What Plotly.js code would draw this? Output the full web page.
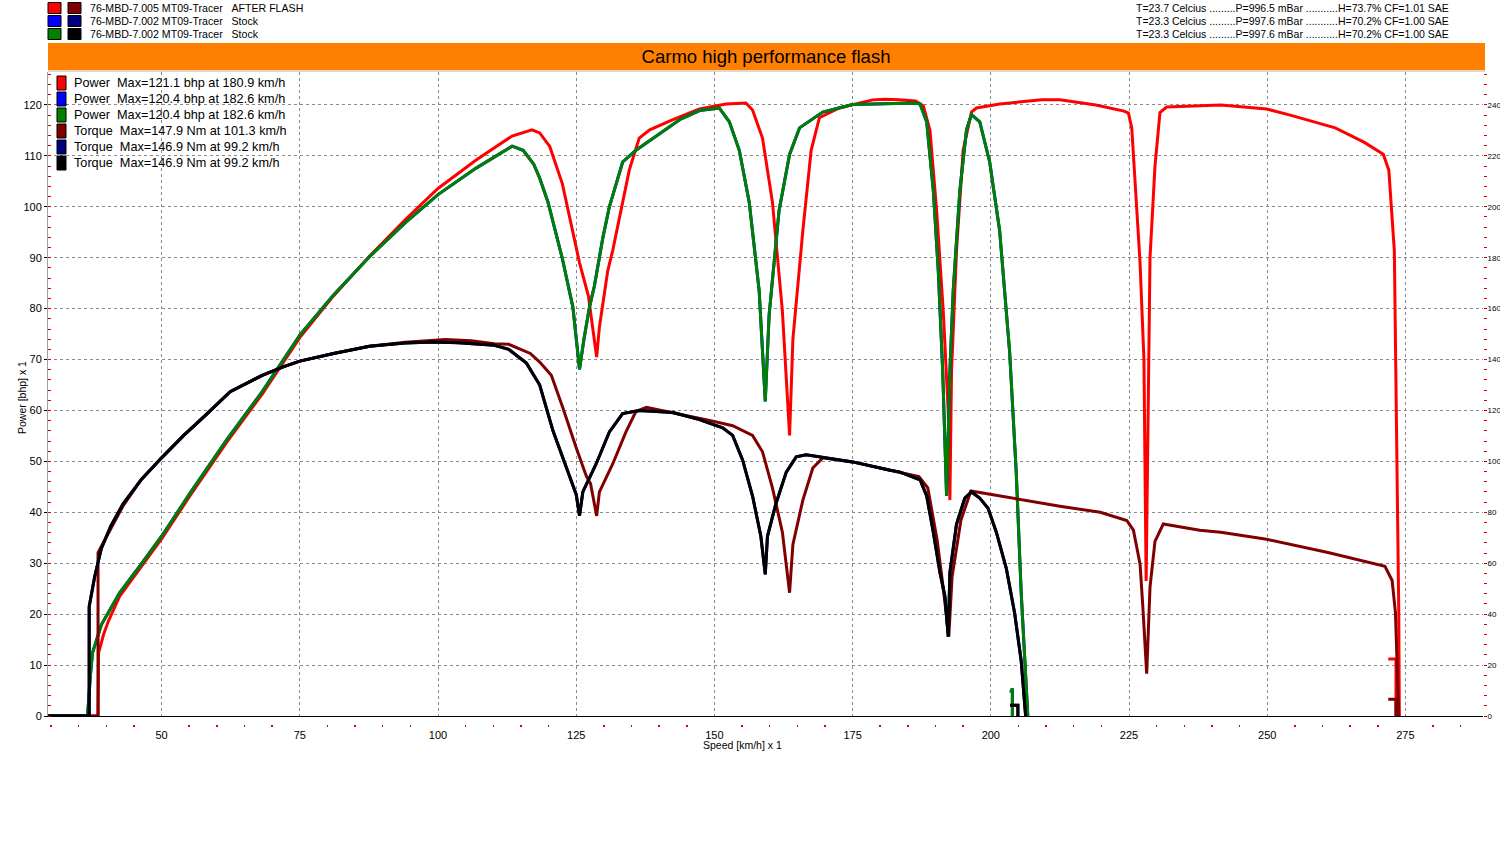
<!DOCTYPE html>
<html>
<head>
<meta charset="utf-8">
<script src="https://cdn.plot.ly/plotly-3.0.1.min.js"></script>
<style>html,body{margin:0;padding:0;background:#fff;}#chart{width:1500px;height:850px;}</style>
</head>
<body>
<div id="chart"></div>
<script>
// ---------- DATA ----------
// After flash: power (bhp) vs speed (km/h)
const speedAfterPower = [29.5,38.5,38.6,39.5,40.4,42.4,46.3,50,55.3,61.8,68.2,75,81.1,87.6,94.1,100,106.9,110.9,113.4,117,118.4,119.9,120.2,122.5,124,125.6,127.2,128.7,129.2,129.5,130.7,131.6,134.6,136.4,138.3,142.5,147.3,152.1,155.7,156.9,158.7,160.5,162.3,163.6,164.2,166,167.5,169,172.6,178.6,180.9,183.4,186.4,187.8,189,190.2,191.4,192.3,192.6,192.9,193.8,195,196.5,197.4,201.6,209.2,212.5,219,224.1,224.9,225.5,227,227.7,228.1,228.8,229.7,230.6,231.8,241.6,249.9,254.5,262.3,267.5,271,272,273,273.4,273.8,273.9,null,271.9,273.3,273.3];
const powerAfter = [0,0,12.4,16,18.7,23.5,29.3,34.8,43.5,53.8,63.2,74.3,82.5,90.3,97.5,103.6,109.2,112,113.9,115.1,114.5,112.3,111.9,104.5,97,89,82.5,70.5,76.4,78.8,87.4,91.4,107.2,113.5,115.1,117.1,119.2,120.2,120.4,119,113.5,100.9,79.5,55.1,74,95.3,111.1,117.5,119.4,121,121.1,121,120.8,119.8,115,99.3,79.5,59.8,42.4,67.7,91.4,111.1,118.6,119.4,120.2,121,121,120,118.8,118.4,115.5,89,70,26.5,90,108,118.5,119.6,120,119.2,117.9,115.5,112.7,110.3,107.2,91.4,59.8,20.3,0,null,11.2,11.2,0];

// Stock: power (bhp) vs speed (km/h)
const speedStockPower = [29.5,36.6,37.1,37.5,39.1,42.4,46.3,50,55.3,61.8,68.2,75,81.1,87.6,94.1,100,106.9,110.9,113.4,115.4,117.3,118.4,119.9,122.5,124.4,125.6,126.4,127.4,128.3,129.8,131,133.4,135.8,139.5,143.7,147.3,150.9,152.7,154.5,156.3,158.1,159.2,159.9,161.7,163.6,165.4,169.6,175,178,182.6,186.4,187.2,188.4,189.6,190.5,191.3,192,192.6,193.2,194.4,195.6,196.5,198,199.8,201.6,203.4,204.6,205.5,206.3,206.7,null,203.6,203.9,203.9];
const powerStock = [0,0,7.7,12.4,17.9,24.2,29.8,35.3,44,54.3,63.7,74.8,82.7,90.2,96.9,102.4,107.6,110.3,111.9,111.1,108.4,105.6,100.9,89.8,80.3,68.1,74,80.3,84.5,93.8,100,108.8,111.1,113.9,117.1,118.9,119.4,116.7,111.1,100.9,83.5,61.8,78.8,99.3,110.3,115.5,118.6,120.1,120.2,120.4,120.4,120.2,116.7,103.2,87.4,67.7,43.2,67.7,83.5,103.2,115.1,118.1,116.7,108.8,95.3,71.6,47.9,24.2,8.5,0,null,4.6,5.4,0];

// After flash: torque (Nm) vs speed (km/h)
const speedAfterTorque = [29.5,38.5,38.5,40.1,43,46.3,50,54,57.9,62.4,68.2,72.1,75,81.1,87.6,94.1,101.3,106,110.2,112.8,116.7,118.4,120.5,122.6,125,126.8,127.6,128.7,129.2,131.6,134,135.8,137.7,142.5,148.5,153.3,156.9,158.7,160.5,162.3,163.6,164.2,166,167.8,169.6,175,181.6,187,188.6,190.3,191.5,192.4,193,194.6,196.4,202.7,208.7,212.5,219.8,224.6,225.8,227,227.5,228.2,228.8,229.7,231.2,237.8,241.6,249.9,261,271.3,272.6,273.2,273.8,null,271.9,273.3,273.3];
const torqueAfter = [0,0,64.2,70.6,82.4,92.8,101.4,110.2,118,127.4,133.8,137.2,139.4,142.4,145.2,146.8,147.9,147.4,146.2,146,142.4,139,133.8,121,105.4,94.4,91.2,78.6,88,99,111.6,119.6,121.2,119.2,116.4,114,110.2,103.8,89.6,72.2,48.4,67.4,84.8,97.4,101.4,99.8,96.6,94,89.6,69,48.4,31.2,54.8,77,88.4,86,84,82.4,80,76.8,73,59.6,43,16.6,50.6,68.6,75.4,73,72.2,69.4,64.2,58.8,53.2,40.6,0,null,6.6,6.6,0];

// Stock: torque (Nm) vs speed (km/h)
const speedStockTorque = [29.5,36.9,36.9,37.9,39.1,40.8,43,46.3,50,54,57.9,62.4,68.2,72.1,75,81.1,87.6,94.1,99.2,103.7,110.2,112.8,116,118.4,120.8,123.1,125,125.6,126.2,128.6,131,133.4,136.4,142.5,147.3,151.5,153.3,155.1,156.9,158.4,159.2,159.6,161.1,163,164.8,166.6,175,181.6,183.6,187.2,188.4,189.6,190.8,191.7,192.3,192.6,193.8,195.3,196.5,198,199.5,201,202.8,204.3,205.5,206.3,null,203.5,204.9,204.9];
const torqueStock = [0,0,43,54.8,65.8,74.6,83.2,92.8,101.4,110.2,118,127.4,133.8,137.2,139.4,142.4,145.2,146.5,146.9,146.6,145.6,144,138.6,130,112,98,87,78.6,88,99,111.6,118.8,120,119.2,116.4,113.2,110.2,100.6,86.4,70.6,55.6,70.6,83.2,95.8,101.8,102.6,99.8,96.6,95.8,92.8,86.4,72.2,56.4,47,31.2,56.4,75.4,85.6,88,85.6,81.6,72.2,58,40.6,21.6,0,null,4.2,4.2,0];

// Text
const fileLabels = ["76-MBD-7.005 MT09-Tracer   AFTER FLASH","76-MBD-7.002 MT09-Tracer   Stock","76-MBD-7.002 MT09-Tracer   Stock"];
const fileColors = [["#ff0000","#800000"],["#0000ff","#000080"],["#008000","#000000"]];
const conditions = ["T=23.7 Celcius .........P=996.5 mBar ...........H=73.7% CF=1.01 SAE","T=23.3 Celcius .........P=997.6 mBar ...........H=70.2% CF=1.00 SAE","T=23.3 Celcius .........P=997.6 mBar ...........H=70.2% CF=1.00 SAE"];
const legendLabels = ["Power  Max=121.1 bhp at 180.9 km/h","Power  Max=120.4 bhp at 182.6 km/h","Power  Max=120.4 bhp at 182.6 km/h","Torque  Max=147.9 Nm at 101.3 km/h","Torque  Max=146.9 Nm at 99.2 km/h","Torque  Max=146.9 Nm at 99.2 km/h"];
const legendColors = ["#ff0000","#0000ff","#008000","#800000","#000080","#000000"];
const chartTitle = "Carmo high performance flash";
const xTitle = "Speed [km/h] x 1";
const yTitle = "Power [bhp] x 1";

// ---------- LAYOUT HELPERS ----------
const W = 1500, H = 850, ML = 48, MR = 17, MT = 72, MB = 126;
const PW = W - ML - MR, PH = H - MT - MB;
const fx = x => (x - ML) / PW;
const fy = y => (H - MB - y) / PH;
const FONT = "Liberation Sans, Arial, sans-serif";
const PXPERKMH = 5.528, PXPERBHP = 5.092;

const lw = 3;
const traces = [
  {x: speedAfterPower, y: powerAfter, color: "#ff0000", yaxis: "y"},
  {x: speedAfterTorque, y: torqueAfter, color: "#800000", yaxis: "y2"},
  {x: speedStockPower, y: powerStock, color: "#0000ff", yaxis: "y"},
  {x: speedStockTorque, y: torqueStock, color: "#000080", yaxis: "y2"},
  {x: speedStockPower, y: powerStock, color: "#008000", yaxis: "y"},
  {x: speedStockTorque, y: torqueStock, color: "#000000", yaxis: "y2"}
].map(t => ({
  type: "scatter", mode: "lines", x: t.x, y: t.y, yaxis: t.yaxis, xaxis: "x",
  line: {color: t.color, width: lw}, connectgaps: false, hoverinfo: "skip", showlegend: false
}));
// carrier for the minor-tick dots axis
traces.push({type: "scatter", mode: "lines", x: [], y: [], xaxis: "x2", yaxis: "y", showlegend: false, hoverinfo: "skip"});

const shapes = [];
const annotations = [];

// orange title band
shapes.push({type: "rect", xref: "paper", yref: "paper", x0: fx(48), x1: fx(1485), y0: fy(70), y1: fy(43),
  fillcolor: "#ff8000", line: {width: 0}, layer: "above"});
shapes.push({type: "line", xref: "paper", yref: "paper", x0: fx(48), x1: fx(1485), y0: fy(71), y1: fy(71),
  line: {color: "#c8b090", width: 1}, layer: "above"});

// top-left file legend
fileLabels.forEach((lab, i) => {
  const yc = 8 + i * 13;
  fileColors[i].forEach((c, j) => {
    const x0 = 48 + j * 20;
    shapes.push({type: "rect", xref: "paper", yref: "paper", x0: fx(x0), x1: fx(x0 + 13), y0: fy(yc + 5.5), y1: fy(yc - 5.5),
      fillcolor: c, line: {color: "#000", width: 1}, layer: "above"});
  });
  annotations.push({xref: "paper", yref: "paper", x: fx(88), y: fy(yc), xanchor: "left", yanchor: "middle",
    text: lab.replace(/ {2,}/g, m => "&nbsp;".repeat(m.length)), showarrow: false, font: {family: FONT, size: 10.6, color: "#000"}});
});
// top-right conditions
conditions.forEach((t, i) => {
  annotations.push({xref: "paper", yref: "paper", x: fx(1134), y: fy(8 + i * 13), xanchor: "left", yanchor: "middle",
    text: t, showarrow: false, font: {family: FONT, size: 10.5, color: "#000"}});
});

// inner legend box
shapes.push({type: "rect", xref: "paper", yref: "paper", x0: fx(50), x1: fx(296), y0: fy(171), y1: fy(74),
  fillcolor: "#ffffff", line: {width: 0}, layer: "between"});
legendLabels.forEach((lab, i) => {
  const yc = 83 + i * 16;
  shapes.push({type: "rect", xref: "paper", yref: "paper", x0: fx(57), x1: fx(66), y0: fy(yc + 7), y1: fy(yc - 7),
    fillcolor: legendColors[i], line: {color: "#000", width: 1}, layer: "above"});
  annotations.push({xref: "paper", yref: "paper", x: fx(72), y: fy(yc), xanchor: "left", yanchor: "middle",
    text: lab.replace(/ {2,}/g, m => "&nbsp;".repeat(m.length)), showarrow: false, font: {family: FONT, size: 12.7, color: "#000"}});
});

// axis titles
annotations.push({xref: "paper", yref: "paper", x: fx(742), y: fy(745), xanchor: "center", yanchor: "middle",
  text: xTitle, showarrow: false, font: {family: FONT, size: 10.5, color: "#000"}});
annotations.push({xref: "paper", yref: "paper", x: fx(22), y: fy(397), xanchor: "center", yanchor: "middle",
  text: yTitle, textangle: -90, showarrow: false, font: {family: FONT, size: 10.5, color: "#000"}});

const xr = [29.45, 29.45 + PW / PXPERKMH];
const yTop = (716 - 72) / PXPERBHP;
const tickFont = {family: FONT, size: 11, color: "#000"};
const layout = {
  width: W, height: H,
  margin: {l: ML, r: MR, t: MT, b: MB, pad: 0},
  paper_bgcolor: "#ffffff", plot_bgcolor: "#ffffff",
  showlegend: false,
  title: {text: chartTitle, font: {family: FONT, size: 18.5, color: "#000"}, xref: "container", yref: "container",
    x: 766 / W, xanchor: "center", y: 1 - 57 / H, yanchor: "middle"},
  xaxis: {
    range: xr, anchor: "y", tickmode: "linear", tick0: 0, dtick: 25,
    showgrid: true, gridcolor: "#8a8a8a", griddash: "3px,3px", gridwidth: 1,
    zeroline: false, showline: true, linecolor: "#000", linewidth: 1,
    ticks: "outside", ticklen: 9, tickcolor: "rgba(0,0,0,0)", tickfont: tickFont, fixedrange: true
  },
  xaxis2: {
    range: xr, overlaying: "x", anchor: "free", position: 0, side: "bottom",
    tickmode: "linear", tick0: 0, dtick: 25, showticklabels: false, ticks: "", showgrid: false,
    zeroline: false, showline: false,
    minor: {dtick: 5, tick0: 0, ticks: "outside", ticklen: 2, tickwidth: 1.5, tickcolor: "#e00000", showgrid: false}
  },
  yaxis: {
    range: [0, yTop], domain: [8 / PH, 1], tickmode: "linear", tick0: 0, dtick: 10,
    showgrid: true, gridcolor: "#8a8a8a", griddash: "3px,3px", gridwidth: 1,
    zeroline: false, showline: true, linecolor: "#a0a0a0", linewidth: 1,
    ticks: "outside", ticklen: 3, tickcolor: "#000", tickfont: tickFont,
    minor: {dtick: 2, tick0: 0, ticks: "inside", ticklen: 3, tickcolor: "#d00000", showgrid: false}, fixedrange: true
  },
  yaxis2: {
    range: [0, 2 * yTop], overlaying: "y", side: "right", anchor: "x",
    tickmode: "linear", tick0: 0, dtick: 20, showgrid: false, zeroline: false, showline: false,
    ticks: "outside", ticklen: 3, tickcolor: "#d00000", ticklabelstandoff: -1,
    tickfont: {family: "Liberation Sans Narrow, Liberation Sans, Arial, sans-serif", size: 8, color: "#000"},
    minor: {dtick: 4, tick0: 0, ticks: "outside", ticklen: 3, tickcolor: "#d00000", showgrid: false}, fixedrange: true
  },
  shapes: shapes,
  annotations: annotations
};

Plotly.newPlot("chart", traces, layout, {displayModeBar: false, staticPlot: true});
</script>
</body>
</html>
